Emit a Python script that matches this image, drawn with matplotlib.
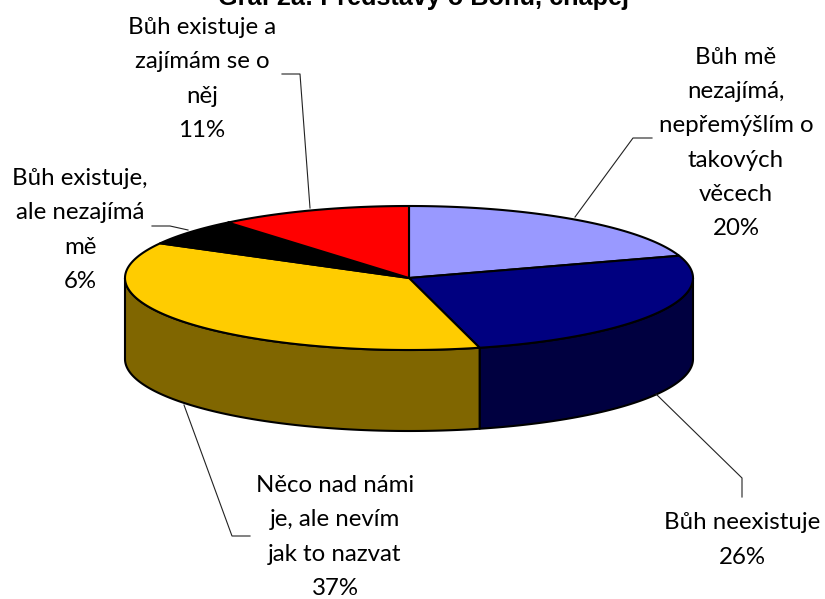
import matplotlib.pyplot as plt
import numpy as np

labels = ["Bůh mě\nnezajímá,\nnepřemýšlím o\ntakových\nvěcech\n20%",
          "Bůh neexistuje\n26%",
          "Něco nad námi\nje, ale nevím\njak to nazvat\n37%",
          "Bůh existuje,\nale nezajímá\nmě\n6%",
          "Bůh existuje a\nzajímám se o\nněj\n11%"]
values = [20, 26, 37, 6, 11]
top_colors = ["#9999FF", "#000080", "#FFCC00", "#000000", "#FF0000"]
side_colors = ["#4D4D80", "#000040", "#806600", "#000000", "#800000"]

title = "Graf 2a: Představy o Bohu, chápej"

# Pixel layout of the fake 3D pie
cx, cy = 409, 278
rx, ry = 284, 72
depth = 81

label_pos = [(736, 143), (742, 540), (335, 537), (80, 230), (202, 79)]
leaders = [[(575, 217), (633, 138), (652, 138)],
           [(656, 394), (742, 478), (742, 497)],
           [(184, 405), (232, 536), (250, 536)],
           [(152, 226), (170, 226), (188, 230)],
           [(282, 74), (300, 74), (310, 208)]]

fig = plt.figure(figsize=(8.25, 5.99), dpi=100)
ax = fig.add_axes([0, 0, 1, 1])
ax.set_xlim(0, 825)
ax.set_ylim(599, 0)
ax.axis("off")


def rim(t0, t1):
    # Angles run clockwise from the top of the ellipse, in degrees
    t = np.radians(np.linspace(t0, t1, 200))
    return cx + rx * np.sin(t), cy - ry * np.cos(t)


edges = np.cumsum([0] + values) / sum(values) * 360

# Side walls only exist on the front half
for a, b, col in zip(edges[:-1], edges[1:], side_colors):
    lo, hi = max(a, 90), min(b, 270)
    if lo >= hi:
        continue
    x, y = rim(lo, hi)
    ax.fill(np.r_[x, x[::-1]], np.r_[y, y[::-1] + depth],
            facecolor=col, edgecolor="black", lw=1.5, joinstyle="round")

for a, b, col in zip(edges[:-1], edges[1:], top_colors):
    x, y = rim(a, b)
    ax.fill(np.r_[cx, x], np.r_[cy, y],
            facecolor=col, edgecolor="black", lw=1.5, joinstyle="round")

for pts in leaders:
    xs, ys = zip(*pts)
    ax.plot(xs, ys, color="#222222", lw=0.8)

for lab, (x, y) in zip(labels, label_pos):
    ax.text(x, y, lab, ha="center", va="center", fontsize=17.3,
            family="Lato", linespacing=1.77, color="black")

# Title is cut by the top edge in the original too
ax.text(424, 5, title, ha="center", va="baseline", fontsize=18.2,
        fontweight="bold", family="Liberation Sans", color="black")

plt.savefig("out.png", dpi=100, facecolor="white")
plt.close(fig)
